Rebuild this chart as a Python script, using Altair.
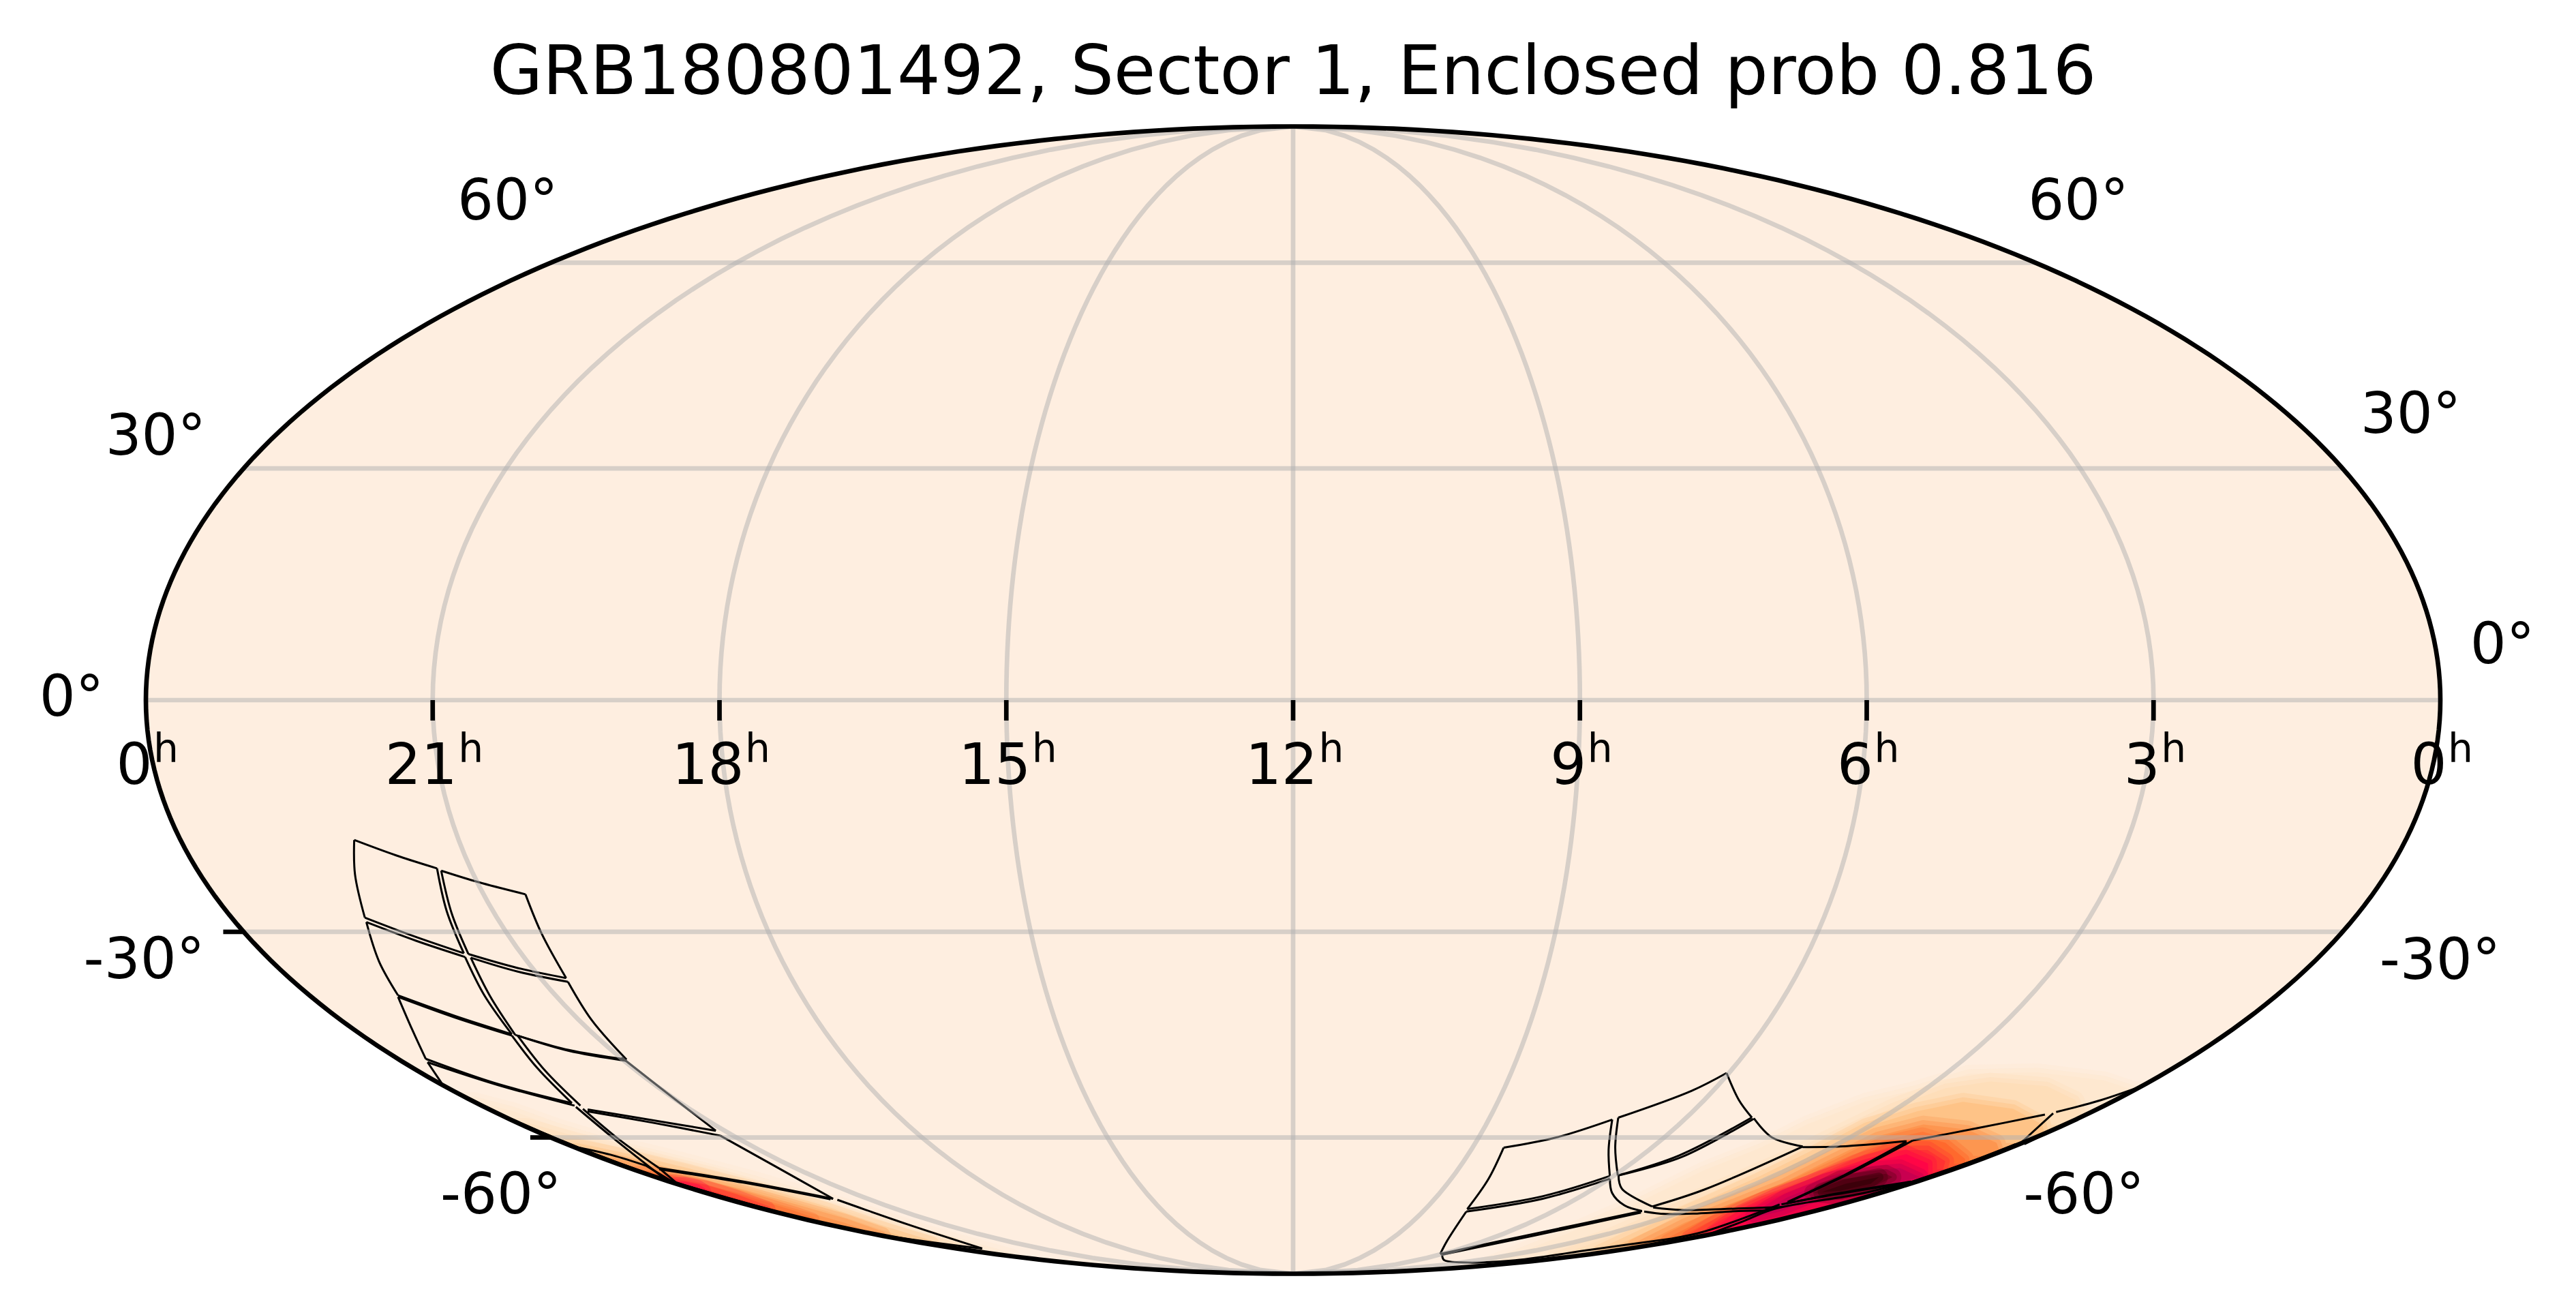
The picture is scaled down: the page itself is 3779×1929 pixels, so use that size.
import math
import altair as alt
import pandas as pd

TITLE = "GRB180801492, Sector 1, Enclosed prob 0.816"
RA_HOURS = [21, 18, 15, 12, 9, 6, 3]
DEC_GRID = [60, 30, 0, -30, -60]
DEC_TICKS = [-30, -60]
RA_LABELS = ["0", "21", "18", "15", "12", "9", "6", "3", "0"]
RA_LABEL_HOURS = [24, 21, 18, 15, 12, 9, 6, 3, 0]

# tile outlines on the sky: (RA deg, Dec deg)
TILE_EDGES = {
 "At": [(331.9,-17.9),(326.2,-19.9),(320.5,-21.6)], "Ar": [(320.5,-21.6),(322.8,-27.2),(325,-32.9)],
 "Ab": [(325,-32.9),(331.6,-30.5),(337.4,-28.1)], "Al": [(337.4,-28.1),(334.5,-22.4),(331.9,-17.9)],
 "Bt": [(320,-21.9),(314.8,-23.4),(308,-25)], "Br": [(308,-25),(309.1,-30.3),(310.4,-36.3)],
 "Bb": [(310.4,-36.3),(317.6,-34.9),(324.3,-33)], "Bl": [(324.3,-33),(322.2,-27.5),(320,-21.9)],
 "Ct": [(337.7,-28.7),(331.6,-31.2),(325.3,-33.4)], "Cr": [(325.3,-33.4),(328,-38.7),(330.8,-44.2)],
 "Cb": [(330.8,-44.2),(337.5,-41.6),(343.8,-38.7)], "Cl": [(343.8,-38.7),(341.1,-34),(337.7,-28.7)],
 "Dt": [(324.4,-33.5),(318.1,-35.4),(310.6,-36.8)], "Dr": [(310.6,-36.8),(312.6,-42.2),(314.2,-47.9)],
 "Db": [(314.2,-47.9),(323.4,-46.5),(330.3,-44.3)], "Dl": [(330.3,-44.3),(327.1,-38.8),(324.4,-33.5)],
 "Et": [(344.1,-38.9),(337.9,-41.8),(331.1,-44.4)], "Er": [(331.1,-44.4),(334.6,-49.2),(339,-54.5)],
 "Eb": [(339,-54.5),(348.3,-51.4),(354.4,-47.8)], "El": [(354.4,-47.8),(348.8,-43.5),(344.1,-38.9)],
 "Ft": [(330,-44.4),(323.7,-46.6),(314.5,-48.1)], "Fr": [(314.7,-47.6),(314.9,-53.3),(317.1,-58.9)],
 "Fb": [(317.1,-58.9),(327.6,-57.2),(338,-55.5)], "Fl": [(338.1,-54.9),(333.7,-49.5),(330,-44.4)],
 "Gt": [(355.1,-48.3),(348.3,-51.7),(339.4,-54.9)], "Gl": [(355.1,-48.3),(359.4,-51.4)],
 "Gr": [(339.6,-55.1),(345.3,-60.2),(359.2,-67.2)], "Ge": [(359.8,-51.4),(359.6,-56.8),(359.1,-61.7)],
 "Ht": [(359.1,-61.7),(355.4,-63),(353.8,-64.8)], "Hr": [(353.8,-64.8),(359.7,-67.8)],
 "He": [(359.7,-67.8),(359.1,-64.8),(359.1,-61.7)],
 "It": [(338.8,-55.8),(328.6,-57.6),(318.1,-59.7)], "Ir": [(318.1,-59.7),(319.4,-64.8),(326,-70.8)],
 "Ib": [(326,-70.8),(338.6,-67.6),(352,-65.2)], "Il": [(352,-65.2),(344.3,-60.2),(338.8,-55.4)],
 "Jt": [(352.8,-65.4),(339.5,-67.8),(327.3,-70.9)], "Jr": [(325.6,-71),(329.1,-76),(346.4,-81.5)],
 "Je": [(346.4,-81.5),(360.5,-76.8),(359,-67.8)], "Jl": [(352,-65.2),(359,-67.8)],
 "Pt": [(127.2,-61.7),(116.2,-60),(106.6,-57.1)], "Pr": [(106.6,-57.1),(100.2,-62.1),(91,-66.6)],
 "Pb": [(91,-66.6),(101.9,-70.3),(120.8,-72.8)], "Pl": [(120.8,-72.8),(124.3,-67.2),(127.2,-61.7)],
 "Qt": [(105.6,-56.8),(94.6,-52.6),(90.5,-49.9)], "Qr": [(90.5,-49.9),(82.5,-54),(75,-56.8)],
 "Qb": [(75.1,-56.8),(80.4,-63),(89,-66.5)], "Ql": [(89,-66.5),(99.2,-61.7),(105.6,-56.8)],
 "Rt": [(120,-73.3),(100.8,-70.8),(89.8,-67.1)], "Rr": [(89.8,-67.1),(82.2,-69.7),(70.1,-72.1),(59.6,-73.2)],
 "Rb": [(59.6,-73.2),(76.9,-78),(91.4,-82.9)], "Rl": [(91.4,-82.9),(107.7,-79.6),(120,-73.3)],
 "St": [(88.6,-83.1),(74.6,-78.4),(58.6,-73.5)], "Sr": [(58.4,-73.3),(48.6,-73.8),(37.9,-73.7),(26.3,-73.2),(16.2,-73.1)],
 "Sb": [(88.6,-83.1),(71.2,-84.6),(47.6,-85.3),(18.9,-84.8),(16.9,-81.8),(7.8,-79.1)],
 "Tt": [(88.8,-66.5),(79.2,-63.3),(74.3,-57)], "Tr": [(74.4,-56.9),(63.9,-60),(52.7,-61.5)],
 "Tb": [(52.7,-61.5),(56.3,-69.1),(60.1,-72.3)], "Tl": [(60.1,-72.3),(81.6,-68.9),(88.8,-66.5)],
 "Ut": [(52.5,-61.6),(43.3,-61.5),(29.5,-60.6)], "Ur": [(29.2,-60.7),(25.8,-66.4),(19.9,-71.4)],
 "Ub": [(58.9,-72.5),(47,-73),(29.3,-72.7),(15.9,-72.4)],
 "Xa": [(7.8,-79.1),(8.6,-77.5),(19.8,-71.9)], "Xb": [(2.5,-77.8),(11,-75.3),(16.5,-72.8),(5.4,-69.9),(1.9,-67.7)],
 "Wt": [(18.7,-71.7),(12.2,-69.7),(1.7,-67.6)], "Wb": [(19.2,-71.9),(12.6,-70),(1.9,-67.9)],
 "Yl": [(28.3,-60.5),(25.5,-66),(19.5,-71.4)], "Yt": [(28.3,-60.5),(18.8,-58.5),(9.4,-56.3)],
 "Yr": [(8.1,-56.1),(0.8,-60.7)], "Yb": [(1,-61.1),(1.1,-64.4),(1.3,-67.7)],
 "Zt": [(8,-55.9),(3.5,-54.2),(0.3,-52.1)], "Zr": [(0.3,-52.1),(0.4,-56.1),(-1.2,-61.1)],
}

LEVEL_COLORS = ["#FEE8D0","#FEDEB9","#FEC387","#FD9650","#FF692D","#FF3232","#FF0546","#C80050","#780023","#3C000A"]
HEAT_EAST = [
 [(2.4,-86.2),(62.9,-78),(67.7,-71.9),(67.5,-65.6),(62.7,-61.7),(60.2,-57.9),(54.3,-54.3),(47.1,-52.5),(40.3,-50),(26.6,-49.8),(10.1,-51),(0.1,-52.5)],
 [(10.5,-83.6),(39.6,-78.5),(50.4,-73.2),(52.4,-68.4),(51.2,-64),(49.4,-59.4),(46.3,-55.1),(41,-52.2),(33.5,-51.2),(20.1,-51.9),(8.9,-54),(-0.5,-56.7)],
 [(-1.8,-82.7),(34.3,-77),(43.5,-71.9),(45.6,-67.6),(46.2,-63.2),(45.4,-58.3),(39.6,-55.8),(32.8,-54.3),(19,-55.4),(5.3,-57.9),(-0.1,-59.4)],
 [(0.9,-81.2),(31,-75.6),(36.4,-71.4),(37.4,-68),(39.3,-64),(38.9,-59.8),(33,-57.9),(20.4,-58.7),(6.4,-60.9),(0.1,-62.4)],
 [(-0.9,-80),(22.5,-75.6),(28.6,-71.9),(30.7,-68.4),(32.3,-65.2),(33.2,-61.3),(28,-59.8),(19,-60.9),(4.4,-63.6),(0.3,-64.6)],
 [(-0.7,-79.1),(22.5,-74.6),(29.4,-71),(29.2,-68),(30.5,-64.4),(28,-62.1),(19.5,-62.1),(8,-64),(0.4,-66)],
 [(-0.1,-78),(22.3,-73.7),(28,-70.6),(29.3,-67.2),(27.5,-64.4),(22.6,-62.8),(11,-64.4),(-0.4,-67)],
]
HEAT_EAST_CORE = [
 [(12.2,-74.6),(24.4,-70.6),(26,-67.6),(21.5,-65.6),(15.4,-65.2),(3,-66.8),(4.4,-68),(8.8,-69.5),(15,-71),(11.3,-73.2)],
 [(20.6,-69.7),(23.7,-67.2),(15.2,-66.2),(10.7,-66.8),(8.5,-68.2),(12.8,-70.1)],
 [(18.8,-69.5),(18.8,-68),(14.5,-66.8),(11.5,-68),(14.2,-69.3)],
]
HEAT_WEST = [
 [(359.6,-54.2),(355.4,-55.8),(353,-58.3),(348.5,-61.1),(342.2,-63.4),(334,-67.4),(330.2,-72.3),(337.4,-78.3),(367.1,-83.9)],
 [(360.1,-58.3),(355.7,-60.7),(350.5,-63.2),(342.9,-66.6),(339.7,-71.4),(340.7,-75.3),(355.1,-81)],
 [(359.7,-61.7),(353.5,-63.4),(347.6,-66),(342.4,-69.3),(341.2,-73.2),(349.3,-77.5),(362.6,-80.7)],
 [(360.1,-64.2),(356,-66.8),(349.8,-69.7),(349,-72.5),(350.7,-75.6),(360.8,-78.5)],
 [(359,-66.4),(356,-68.9),(356.3,-72.3),(358,-74),(361,-75.3)],
 [(360.1,-67.9),(356.5,-69),(356.8,-70.8),(360.3,-73)],
 [(359.8,-68.4),(358.5,-68.9),(360.1,-69.5)],
]

W, H = 3366, 1683
PX = H / (2 * math.sqrt(2))
SQ2 = math.sqrt(2)


def project(ra, dec):
    phi = math.radians(dec)
    lo, hi = -math.pi / 2, math.pi / 2
    t = math.pi * math.sin(phi)
    for _ in range(60):
        mid = (lo + hi) / 2
        if 2 * mid + math.sin(2 * mid) < t:
            lo = mid
        else:
            hi = mid
    th = (lo + hi) / 2
    return (2 * SQ2 / math.pi * math.radians(180 - ra) * math.cos(th), SQ2 * math.sin(th))


def table(lines):
    rows = []
    for name, pts in lines.items():
        for i, (a, b) in enumerate(pts):
            rows.append({"edge": name, "i": i, "x": a, "y": b})
    return pd.DataFrame(rows)


X = alt.X("x:Q", scale=alt.Scale(domain=[-2 * SQ2, 2 * SQ2], nice=False, zero=False), axis=None)
Y = alt.Y("y:Q", scale=alt.Scale(domain=[-SQ2, SQ2], nice=False, zero=False), axis=None)
PROJ = dict(type="identity", reflectY=True, scale=PX, translate=[W / 2, H / 2])


def poly(rings):
    return alt.Data(values=[{"type": "Feature", "properties": {},
                             "geometry": {"type": "Polygon", "coordinates": rings}}])


def shape(rings, **kw):
    return alt.Chart(poly(rings)).mark_geoshape(**kw).project(**PROJ)


rim = [(2 * SQ2 * math.cos(math.radians(a)), SQ2 * math.sin(math.radians(a))) for a in range(0, 361, 1)]
layers = [shape([[list(p) for p in rim]], fill="#FEEEE0", stroke="transparent")]


def heat(poly_pts, color):
    ring = [list(project(*p)) for p in poly_pts]
    ring.append(ring[0])
    return [
        shape([ring], fill="transparent", stroke=color, strokeWidth=26, strokeOpacity=0.3, strokeJoin="round"),
        shape([ring], fill="transparent", stroke=color, strokeWidth=13, strokeOpacity=0.5, strokeJoin="round"),
        shape([ring], fill=color, stroke="transparent"),
    ]


def closed_to_rim(pts, rim_ra):
    a, b = pts[-1][1], pts[0][1]
    return pts + [(rim_ra, b * k / 40 + a * (40 - k) / 40) for k in range(41)]


for pts, col in zip(HEAT_WEST, LEVEL_COLORS):
    layers += heat(closed_to_rim(pts, 368), col)
for pts, col in zip(HEAT_EAST, LEVEL_COLORS):
    layers += heat(closed_to_rim(pts, -8), col)
for pts, col in zip(HEAT_EAST_CORE, LEVEL_COLORS[7:]):
    layers += heat(pts, col)

# white outside the sky, hides the contour ends past the rim; stops at the top of the sky
box = [[-3.4, -1.7], [-3.4, SQ2], [3.4, SQ2], [3.4, -1.7], [-3.4, -1.7]]
hole = [list(p) for p in rim]
layers.append(shape([box, hole], fill="white", stroke="transparent"))

# tiles
tile_xy = {k: [project(*p) for p in v] for k, v in TILE_EDGES.items()}
layers.append(alt.Chart(table(tile_xy)).mark_line(color="black", strokeWidth=3, interpolate="catmull-rom").encode(
    x=X, y=Y, detail="edge:N", order="i:Q"))

# graticule
grid = {}
for h in RA_HOURS:
    grid[f"m{h}"] = [project(h * 15, d) for d in range(-90, 91, 2)]
for d in DEC_GRID:
    grid[f"p{d}"] = [project(r, d) for r in range(0, 361, 10)]
layers.append(alt.Chart(table(grid)).mark_line(color="#b0b0b0", opacity=0.5, strokeWidth=6.67).encode(
    x=X, y=Y, detail="edge:N", order="i:Q"))

# ticks
tick_len = 30 / PX
ra_ticks = pd.DataFrame([{"x": project(h * 15, 0)[0], "y": 0.0, "y2": -tick_len} for h in RA_HOURS])
layers.append(alt.Chart(ra_ticks).mark_rule(color="black", strokeWidth=6.67).encode(x=X, y=Y, y2="y2:Q"))
dec_ticks = pd.DataFrame([{"x": project(359.999, d)[0], "x2": project(359.999, d)[0] - tick_len, "y": project(360, d)[1]} for d in DEC_TICKS])
layers.append(alt.Chart(dec_ticks).mark_rule(color="black", strokeWidth=6.67).encode(x=X, x2="x2:Q", y=Y))

# frame
layers.append(alt.Chart(table({"rim": rim})).mark_line(color="black", strokeWidth=6.67).encode(x=X, y=Y, order="i:Q"))

FONT = dict(font="DejaVu Sans", color="black")
DIGIT_W = 53
for h, t in zip(RA_LABEL_HOURS, RA_LABELS):
    df = pd.DataFrame([{"x": project(h * 15, 0)[0], "y": 0.0, "t": t, "s": "h"}])
    n = len(t)
    layers.append(alt.Chart(df).mark_text(align="center", baseline="alphabetic", dx=-17, dy=123, fontSize=83.3, **FONT).encode(x=X, y=Y, text="t:N"))
    layers.append(alt.Chart(df).mark_text(align="center", baseline="alphabetic", dx=DIGIT_W * n / 2 + 3, dy=91, fontSize=58.3, **FONT).encode(x=X, y=Y, text="s:N"))

DEC_TEXT = [("60°", 360, 60, -63, -63), ("60°", 0, 60, 63, -63), ("30°", 360, 30, -129, -20), ("30°", 0, 30, 100, -52),
            ("0°", 360, 0, -109, 23), ("0°", 0, 0, 91, -54), ("-30°", 360, -30, -146, 68), ("-30°", 0, -30, 143, 69),
            ("-60°", 360, -60, -73, 111), ("-60°", 0, -60, 71, 111)]
for t, r, d, dx, dy in DEC_TEXT:
    xx, yy = project(r, d)
    df = pd.DataFrame([{"x": xx, "y": yy, "t": t}])
    layers.append(alt.Chart(df).mark_text(align="center", baseline="alphabetic", dx=dx, dy=dy, fontSize=83.3, **FONT).encode(x=X, y=Y, text="t:N"))

chart = alt.layer(*layers).properties(
    width=W, height=H,
    title=alt.TitleParams(TITLE, font="DejaVu Sans", fontSize=100, fontWeight="normal", anchor="middle", frame="group",
                          baseline="alphabetic", offset=46, dy=112, color="black"),
    padding={"left": 206, "top": 177.5, "right": 190, "bottom": 40},
    autosize=alt.AutoSizeParams(type="none"),
).configure_view(stroke=None).resolve_scale(x="shared", y="shared")

chart.save("out.html", embed_options={"renderer": "svg", "actions": False})
